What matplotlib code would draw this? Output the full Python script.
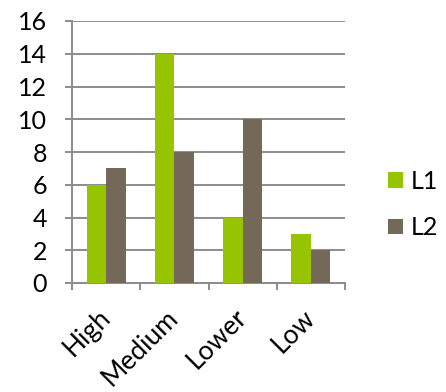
import matplotlib
matplotlib.use("Agg")
import matplotlib.pyplot as plt
import numpy as np

categories = ["High", "Medium", "Lower", "Low"]
l1_values = [6, 14, 4, 3]
l2_values = [7, 8, 10, 2]
y_ticks = [0, 2, 4, 6, 8, 10, 12, 14, 16]

GREEN = "#97C400"
BROWN = "#746958"
GRID = "#8C8C8C"
FS = 18

plt.rcParams["font.family"] = ["Lato", "DejaVu Sans"]

fig = plt.figure(figsize=(4.46, 3.92), dpi=100)
ax = fig.add_axes([72 / 446, 1 - 283 / 392, (345 - 72) / 446, (283 - 21) / 392])

x = np.arange(len(categories))
w = 0.285
ax.bar(x - w / 2, l1_values, width=w, color=GREEN, label="L1", zorder=3)
ax.bar(x + w / 2, l2_values, width=w, color=BROWN, label="L2", zorder=3)

ax.set_xlim(-0.5, len(categories) - 0.5)
ax.set_ylim(0, 16)
ax.set_yticks(y_ticks)
ax.set_yticklabels([str(t) for t in y_ticks], fontsize=FS)
ax.yaxis.grid(True, color=GRID, linewidth=1.4, zorder=0)

# ticks on the category boundaries
ax.set_xticks(np.arange(-0.5, len(categories), 1.0))
ax.set_xticklabels([])
ax.set_xticks(x, minor=True)
ax.set_xticklabels(categories, minor=True, fontsize=FS + 1, rotation=45,
                   ha="right", va="center", rotation_mode="anchor")
ax.tick_params(axis="x", which="major", length=5, width=1.4, color=GRID, direction="out")
ax.tick_params(axis="x", which="minor", length=0, pad=22)
ax.tick_params(axis="y", length=5, width=1.4, color=GRID, pad=13)

for side in ["top", "right"]:
    ax.spines[side].set_visible(False)
for side in ["left", "bottom"]:
    ax.spines[side].set_color(GRID)
    ax.spines[side].set_linewidth(1.4)

ax.legend(loc="center left", bbox_to_anchor=(1.157, 0.30), frameon=False,
          fontsize=FS, handlelength=0.6, handleheight=0.6,
          handletextpad=0.3, labelspacing=0.95, borderpad=0, borderaxespad=0)

fig.savefig("out.png", dpi=100)
